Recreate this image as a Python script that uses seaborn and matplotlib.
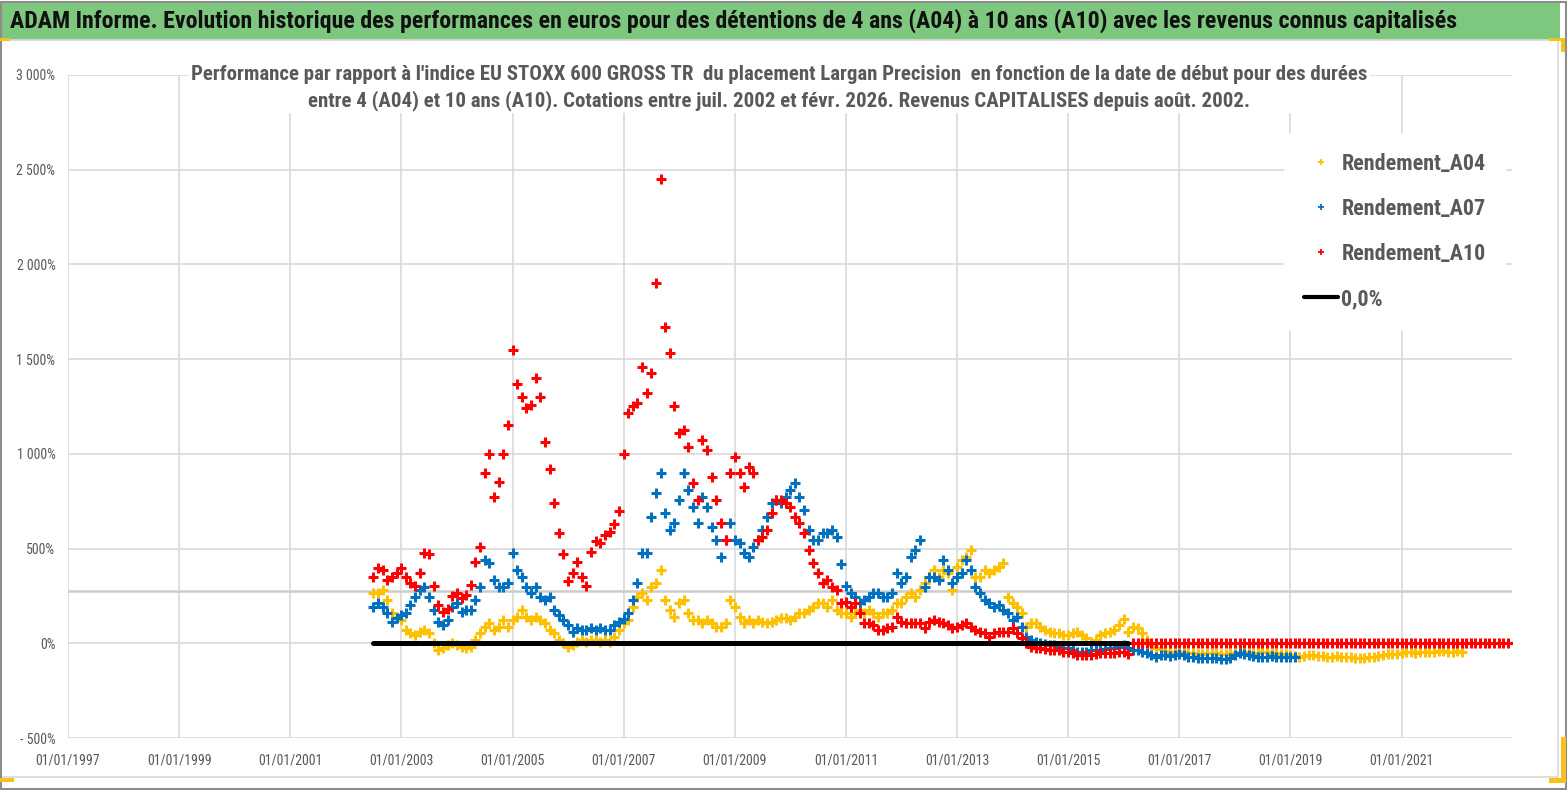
import numpy as np
import pandas as pd
import matplotlib
matplotlib.use("Agg")
import matplotlib.pyplot as plt
import matplotlib.font_manager as fm
from matplotlib.patches import Rectangle
from matplotlib.lines import Line2D
import seaborn as sns

# ---------------- data (monthly readings, start 2002-07) ----------------
start_date = "2002-07-01"

rendement_a04 = [
    264, 264, 282, 229, 158, 141, 123, 70, 53, 44, 62, 70,
    53, 0, -35, -26, -9, 0, -9, -18, -26, -18, 18, 53,
    88, 106, 70, 88, 123, 88, 123, 141, 176, 141, 123, 141,
    123, 106, 70, 53, 18, 0, -18, -9, 9, 18, 9, 18,
    18, 9, 18, 9, 35, 70, 106, 123, 194, 246, 264, 229,
    299, 317, 387, 229, 176, 141, 211, 229, 158, 123, 123, 106,
    123, 106, 88, 88, 106, 229, 194, 141, 106, 123, 106, 123,
    114, 106, 114, 123, 132, 132, 123, 141, 158, 158, 176, 194,
    211, 211, 194, 229, 176, 158, 158, 141, 158, 176, 158, 176,
    158, 141, 158, 158, 176, 211, 211, 246, 264, 246, 282, 317,
    352, 387, 352, 387, 370, 282, 405, 440, 458, 493, 352, 352,
    387, 370, 387, 405, 422, 246, 211, 194, 158, 88, 106, 106,
    88, 70, 62, 53, 53, 44, 44, 53, 62, 44, 26, 9,
    18, 44, 53, 62, 70, 97, 130, 62, 88, 79, 53, 18,
    -9, -26, -32, -40, -45, -48, -50, -48, -50, -52, -55, -55,
    -53, -50, -52, -55, -55, -52, -50, -48, -48, -50, -52, -50,
    -48, -48, -50, -52, -55, -55, -60, -65, -70, -68, -62, -62,
    -65, -68, -70, -70, -68, -70, -72, -74, -77, -79, -79, -74,
    -70, -67, -62, -58, -55, -55, -50, -48, -46, -50, -48, -46,
    -44, -44, -40, -40, -44, -48, -40, -46,
]

rendement_a07 = [
    194, 211, 194, 158, 114, 132, 150, 158, 202, 246, 282, 299,
    246, 176, 114, 97, 123, 194, 211, 167, 176, 176, 229, 299,
    440, 422, 334, 299, 299, 317, 475, 387, 352, 299, 264, 299,
    246, 229, 246, 176, 150, 123, 97, 62, 79, 70, 70, 79,
    70, 79, 70, 70, 97, 110, 130, 160, 229, 317, 475, 475,
    669, 792, 898, 686, 598, 634, 757, 898, 810, 722, 634, 774,
    722, 616, 546, 458, 546, 634, 546, 528, 475, 458, 510, 546,
    598, 669, 739, 757, 739, 774, 810, 845, 774, 704, 598, 546,
    546, 581, 581, 598, 563, 420, 300, 264, 246, 211, 229, 246,
    264, 264, 246, 246, 264, 370, 317, 352, 458, 493, 546, 299,
    352, 352, 334, 440, 387, 317, 352, 370, 440, 387, 299, 264,
    229, 211, 194, 202, 176, 158, 123, 141, 88, 35, 18, 9,
    0, -4, -9, -9, -18, -23, -26, -35, -44, -44, -44, -35,
    -35, -35, -32, -26, -26, -18, -9, -26, -35, -35, -44, -53,
    -62, -70, -62, -62, -65, -62, -58, -62, -70, -74, -79, -77,
    -77, -79, -79, -82, -82, -77, -62, -53, -58, -62, -67, -70,
    -72, -70, -68, -70, -72, -72, -74, -74,
]

rendement_a10 = [
    352, 400, 385, 335, 352, 370, 400, 350, 317, 300, 370, 475,
    470, 300, 200, 165, 180, 250, 264, 240, 255, 310, 430, 510,
    900, 1000, 770, 850, 1000, 1150, 1550, 1370, 1300, 1240, 1260, 1400,
    1300, 1060, 920, 740, 580, 470, 330, 370, 430, 350, 300, 480,
    540, 530, 570, 590, 630, 700, 1000, 1214, 1250, 1267, 1460, 1320,
    1425, 1900, 2450, 1672, 1531, 1250, 1109, 1126, 1038, 845, 757, 1074,
    1021, 880, 757, 634, 546, 898, 986, 898, 827, 933, 898, 546,
    563, 598, 686, 757, 757, 739, 722, 669, 634, 581, 493, 422,
    370, 317, 334, 299, 282, 211, 220, 194, 211, 158, 106, 106,
    97, 70, 70, 79, 88, 141, 114, 106, 106, 106, 106, 79,
    114, 123, 114, 106, 97, 79, 88, 97, 106, 88, 70, 62,
    53, 35, 53, 62, 62, 62, 79, 53, 26, 0, -18, -26,
    -26, -32, -35, -35, -35, -44, -44, -53, -62, -62, -62, -62,
    -56, -53, -49, -53, -53, -44, -44, -56,
    0, 0, 0, 0, 0, 0, 0, 0, 0, 0, 0, 0,
    0, 0, 0, 0, 0, 0, 0, 0, 0, 0, 0, 0,
    0, 0, 0, 0, 0, 0, 0, 0, 0, 0, 0, 0,
    0, 0, 0, 0, 0, 0, 0, 0, 0, 0, 0, 0,
    0, 0, 0, 0, 0, 0, 0, 0, 0, 0, 0, 0,
    0, 0, 0, 0, 0, 0, 0, 0, 0, 0, 0, 0,
    0, 0, 0, 0, 0, 0, 0, 0, 0, 0,
]

zero_line_dates = ["2002-07-01", "2016-02-01"]
zero_line_values = [0, 0]

series_names = ["Rendement_A04", "Rendement_A07", "Rendement_A10"]
series_colors = ["#FFC000", "#0070C0", "#FF0000"]
zero_label = "0,0%"

ytick_values = [-500, 0, 500, 1000, 1500, 2000, 2500, 3000]
ytick_labels = ["- 500%", "0%", "500%", "1 000%", "1 500%", "2 000%", "2 500%", "3 000%"]
xtick_years = [1997, 1999, 2001, 2003, 2005, 2007, 2009, 2011, 2013, 2015, 2017, 2019, 2021]
xtick_labels = ["01/01/%d" % y for y in xtick_years]

title = ("ADAM Informe. Evolution historique des performances en euros pour des détentions "
         "de 4 ans (A04) à 10 ans (A10) avec les revenus connus capitalisés")
subtitle = ("Performance par rapport à l'indice EU STOXX 600 GROSS TR  du placement Largan Precision  "
            "en fonction de la date de début pour des durées\n"
            "entre 4 (A04) et 10 ans (A10). Cotations entre juil. 2002 et févr. 2026. "
            "Revenus CAPITALISES depuis août. 2002.")

# ---------------- fonts ----------------
def pick_font(cands):
    for c in cands:
        try:
            fm.findfont(fm.FontProperties(family=c), fallback_to_default=False)
            return c
        except Exception:
            continue
    return "DejaVu Sans"

sns.set_theme(style="white")
FONT = pick_font(["Liberation Sans Narrow", "Roboto Condensed", "Open Sans Condensed", "Liberation Sans"])
plt.rcParams["font.family"] = [FONT, "DejaVu Sans"]

GRAY_TXT = "#595959"
GRID = "#D9D9D9"

# ---------------- figure ----------------
fig = plt.figure(figsize=(15.67, 7.90), dpi=100)
fig.patch.set_facecolor("white")

ax = fig.add_axes([68 / 1567, 52 / 790, 1444 / 1567, 663 / 790])
ax.set_facecolor("white")

frames = []
for name, vals in zip(series_names, [rendement_a04, rendement_a07, rendement_a10]):
    dates = pd.date_range(start_date, periods=len(vals), freq="MS")
    frames.append(pd.DataFrame({"date": dates, "value": vals, "serie": name}))
df = pd.concat(frames, ignore_index=True)

for z, (name, col) in enumerate(zip(series_names, series_colors)):
    sub = df[df["serie"] == name]
    sns.scatterplot(data=sub, x="date", y="value", marker="+", color=col,
                    s=62, linewidth=2.2, ax=ax, zorder=3 + z, legend=False)

zdf = pd.DataFrame({"date": pd.to_datetime(zero_line_dates), "value": zero_line_values})
sns.lineplot(data=zdf, x="date", y="value", color="black", linewidth=3.6, ax=ax, zorder=5.5)

# odd extra horizontal gridline seen in the reference
ax.axhline(276, color="#CCCCCC", linewidth=1.8, zorder=1)

ax.set_xlim(pd.Timestamp("1997-01-01"), pd.Timestamp("2022-12-27"))
ax.set_ylim(-500, 3000)
ax.set_yticks(ytick_values)
ax.set_yticklabels(ytick_labels)
ax.set_xticks([pd.Timestamp("%d-01-01" % y) for y in xtick_years])
ax.set_xticklabels(xtick_labels)
ax.tick_params(axis="both", length=0, labelsize=10, colors=GRAY_TXT)
ax.tick_params(axis="y", pad=9)
ax.tick_params(axis="x", pad=11)
ax.grid(True, color=GRID, linewidth=1.2, zorder=0)
ax.set_axisbelow(True)
for s in ax.spines.values():
    s.set_visible(False)
ax.set_xlabel("")
ax.set_ylabel("")

# legend
handles = [Line2D([], [], marker="+", color=c, linestyle="none", markersize=5, markeredgewidth=1.3)
           for c in series_colors]
handles.append(Line2D([], [], color="black", linewidth=3))
leg = ax.legend(handles, series_names + [zero_label], loc="upper right",
                bbox_to_anchor=(1.003, 0.929), frameon=True,
                labelspacing=1.05, handlelength=1.55, handletextpad=0.15,
                borderpad=0.9, labelcolor=GRAY_TXT, prop={"weight": "bold", "size": 15.8})
leg.get_frame().set_facecolor("white")
leg.get_frame().set_edgecolor("white")
leg.get_frame().set_alpha(1.0)
leg.set_zorder(10)

# subtitle
fig.text(779 / 1567, 1 - 88 / 790, subtitle, ha="center", va="center", fontsize=15,
         fontweight="bold", color=GRAY_TXT, linespacing=1.35, multialignment="center",
         bbox=dict(facecolor="white", edgecolor="none", pad=2), zorder=10)

# title banner
fig.patches.append(Rectangle((0, 1 - 40 / 790), 1560 / 1567, 37 / 790, transform=fig.transFigure,
                             facecolor="#7DC87E", edgecolor="none", zorder=0))
fig.text(10 / 1567, 1 - 21 / 790, title, ha="left", va="center", fontsize=17.2,
         fontweight="bold", color="#111111")

# chart border and outer image border
fig.patches.append(Rectangle((0, 1 - 777 / 790), 1558 / 1567, 737 / 790, transform=fig.transFigure,
                             facecolor="none", edgecolor="#D9D9D9", linewidth=1.2))
fig.patches.append(Rectangle((0.0005, 0.001), 0.999, 0.997, transform=fig.transFigure,
                             facecolor="none", edgecolor="#8C8C8C", linewidth=1.5))

# selection handles (yellow corners)
for (x0, y0, w, h) in [(0, 38, 10, 3), (1549, 38, 16, 3), (1561, 38, 4, 14),
                       (1561, 737, 5, 46), (1549, 778, 17, 5), (0, 778, 14, 4)]:
    fig.patches.append(Rectangle((x0 / 1567, 1 - (y0 + h) / 790), w / 1567, h / 790,
                                 transform=fig.transFigure, facecolor="#F7C11B",
                                 edgecolor="none", zorder=20))

fig.savefig("out.png", dpi=100, facecolor="white")
